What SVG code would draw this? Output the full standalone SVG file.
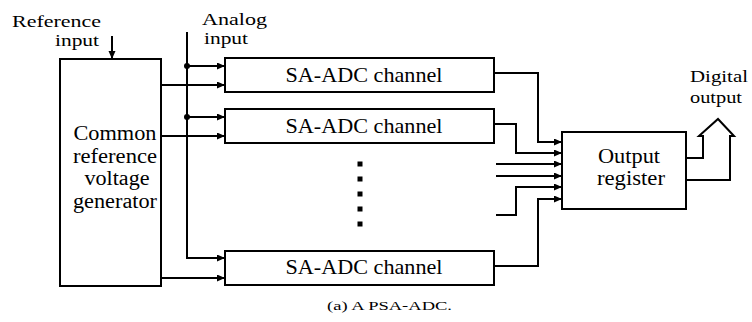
<svg xmlns="http://www.w3.org/2000/svg" width="752" height="322" viewBox="0 0 752 322">
  <style>
    .box { fill: #fff; stroke: #000; stroke-width: 2; }
    .wire { fill: none; stroke: #000; stroke-width: 2; }
    .arr { marker-end: url(#head); }
    text { font-family: "Liberation Serif", "Times New Roman", serif; fill: #000; }
    .lbl { font-size: 22px; }
    .sm { font-size: 17px; }
    .md { font-size: 20px; }
    .mid { text-anchor: middle; }
    .cap { font-size: 13px; }
  </style>
  <defs>
    <marker id="head" markerUnits="userSpaceOnUse" markerWidth="9" markerHeight="8" refX="8" refY="3.5" orient="auto">
      <path d="M0,0 L8,3.5 L0,7 z" fill="#000"/>
    </marker>
  </defs>

  <!-- free labels -->
  <text class="sm" x="12" y="27" textLength="89" lengthAdjust="spacingAndGlyphs">Reference</text>
  <text class="sm" x="55" y="46" textLength="44" lengthAdjust="spacingAndGlyphs">input</text>
  <text class="sm" x="202" y="25" textLength="65" lengthAdjust="spacingAndGlyphs">Analog</text>
  <text class="sm" x="204" y="44" textLength="44" lengthAdjust="spacingAndGlyphs">input</text>
  <text class="sm" x="690" y="82" textLength="58" lengthAdjust="spacingAndGlyphs">Digital</text>
  <text class="sm" x="690" y="103" textLength="52" lengthAdjust="spacingAndGlyphs">output</text>

  <g id="connectors">
    <!-- reference input -->
    <path class="wire arr" d="M112,36 V59"/>
    <!-- analog input bus -->
    <path class="wire" d="M187,32 V258 H217"/>
    <path class="wire arr" d="M187,258 H225"/>
    <path class="wire arr" d="M187,66 H225"/>
    <path class="wire arr" d="M187,117 H225"/>
    <circle cx="187" cy="66" r="3" fill="#000"/>
    <circle cx="187" cy="117" r="3" fill="#000"/>
    <!-- reference voltages -->
    <path class="wire arr" d="M161,85 H225"/>
    <path class="wire arr" d="M161,136 H225"/>
    <path class="wire arr" d="M161,278 H225"/>
    <!-- channel outputs into register -->
    <path class="wire arr" d="M494,73 H538 V142 H562"/>
    <path class="wire arr" d="M494,124 H516 V153 H562"/>
    <path class="wire arr" d="M496,164 H562"/>
    <path class="wire arr" d="M496,176 H562"/>
    <path class="wire arr" d="M496,215 H516 V187 H562"/>
    <path class="wire arr" d="M494,266 H538 V199 H562"/>
    <!-- digital output bus arrow -->
    <path class="wire" d="M686,158 H703 V136 H699 L718,119 L734,136 H730 V180 H686"/>
  </g>

  <g id="ref-gen">
    <rect class="box" x="60" y="59" width="101" height="227"/>
    <text class="md mid" x="115" y="140" textLength="83" lengthAdjust="spacingAndGlyphs">Common</text>
    <text class="md mid" x="115" y="162.5" textLength="84" lengthAdjust="spacingAndGlyphs">reference</text>
    <text class="md mid" x="117" y="185" textLength="65" lengthAdjust="spacingAndGlyphs">voltage</text>
    <text class="md mid" x="115" y="207.5" textLength="84" lengthAdjust="spacingAndGlyphs">generator</text>
  </g>

  <g id="ch1">
    <rect class="box" x="225" y="58" width="269" height="34"/>
    <text class="lbl mid" x="364" y="82" textLength="157" lengthAdjust="spacingAndGlyphs">SA-ADC channel</text>
  </g>
  <g id="ch2">
    <rect class="box" x="225" y="109" width="269" height="34"/>
    <text class="lbl mid" x="364" y="133" textLength="157" lengthAdjust="spacingAndGlyphs">SA-ADC channel</text>
  </g>
  <g id="ellipsis">
    <rect x="357.5" y="161.5" width="5" height="5"/>
    <rect x="357.5" y="176.5" width="5" height="5"/>
    <rect x="357.5" y="191.5" width="5" height="5"/>
    <rect x="357.5" y="206.5" width="5" height="5"/>
    <rect x="357.5" y="221.5" width="5" height="5"/>
  </g>
  <g id="chN">
    <rect class="box" x="225" y="251" width="269" height="34"/>
    <text class="lbl mid" x="364" y="274" textLength="157" lengthAdjust="spacingAndGlyphs">SA-ADC channel</text>
  </g>

  <g id="out-reg">
    <rect class="box" x="562" y="132" width="124" height="77"/>
    <text class="md mid" x="629" y="163" textLength="62" lengthAdjust="spacingAndGlyphs">Output</text>
    <text class="md mid" x="631" y="185" textLength="68" lengthAdjust="spacingAndGlyphs">register</text>
  </g>

  <text class="cap" x="327" y="310" textLength="125" lengthAdjust="spacingAndGlyphs">(a) A PSA-ADC.</text>
</svg>
